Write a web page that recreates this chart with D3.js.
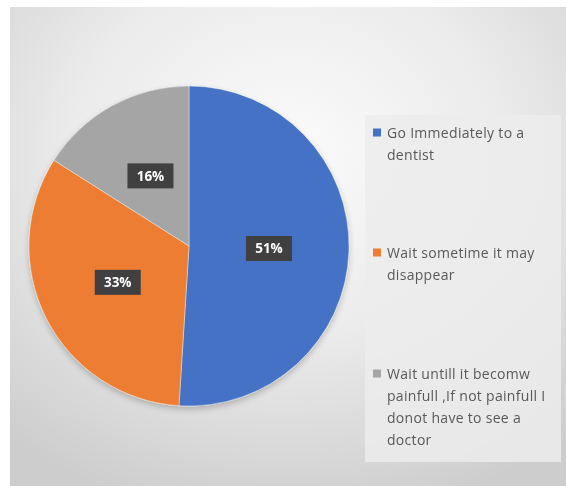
<!DOCTYPE html>
<html>
<head>
<meta charset="utf-8">
<script src="https://cdn.jsdelivr.net/npm/d3@7"></script>
<style>
  html, body { margin: 0; padding: 0; background: #ffffff; }
  svg { display: block; }
</style>
</head>
<body>
<svg id="chart" width="566" height="486"></svg>
<script>
// Survey answers and their shares (percent)
const categories = [
  "Go Immediately to a dentist",
  "Wait sometime it may disappear",
  "Wait untill it becomw painfull ,If not painfull I donot have to see a doctor"
];
const legendLines = [
  ["Go Immediately to a", "dentist"],
  ["Wait sometime it may", "disappear"],
  ["Wait untill it becomw", "painfull ,If not painfull I", "donot have to see a", "doctor"]
];
const shares = [51, 33, 16];
const colors = ["#4472C4", "#ED7D31", "#A5A5A5"];

const svg = d3.select("#chart");
const defs = svg.append("defs");

// Chart area background: light radial fade
const bg = defs.append("radialGradient")
  .attr("id", "bgGrad")
  .attr("cx", "50%").attr("cy", "30%").attr("r", "78%");
bg.append("stop").attr("offset", "0%").attr("stop-color", "#fbfbfb");
bg.append("stop").attr("offset", "50%").attr("stop-color", "#ebebeb");
bg.append("stop").attr("offset", "100%").attr("stop-color", "#cdcdcd");

const soft = defs.append("filter").attr("id", "soft")
  .attr("x", "-20%").attr("y", "-20%").attr("width", "140%").attr("height", "140%");
soft.append("feGaussianBlur").attr("stdDeviation", 0.6);

const shadow = defs.append("filter").attr("id", "shadow")
  .attr("x", "-20%").attr("y", "-20%").attr("width", "140%").attr("height", "140%");
shadow.append("feGaussianBlur").attr("in", "SourceAlpha").attr("stdDeviation", 3).attr("result", "b");
shadow.append("feOffset").attr("in", "b").attr("dy", 3).attr("result", "o");
shadow.append("feComponentTransfer").attr("in", "o").attr("result", "s")
  .append("feFuncA").attr("type", "linear").attr("slope", 0.22);
const m = shadow.append("feMerge");
m.append("feMergeNode").attr("in", "s");
m.append("feMergeNode").attr("in", "SourceGraphic");

svg.append("rect")
  .attr("x", 10).attr("y", 7)
  .attr("width", 556).attr("height", 479)
  .attr("fill", "url(#bgGrad)");

// Pie
const cx = 189, cy = 246, radius = 160;
const pie = d3.pie().sort(null).value(d => d)(shares);
const arc = d3.arc().innerRadius(0).outerRadius(radius);
const labelArc = d3.arc().innerRadius(80).outerRadius(80);

const g = svg.append("g").attr("transform", `translate(${cx},${cy})`);

g.append("g").attr("filter", "url(#shadow)")
  .selectAll("path")
  .data(pie)
  .join("path")
  .attr("d", arc)
  .attr("fill", (d, i) => colors[i])
  .attr("stroke", "#ffffff")
  .attr("stroke-width", 0.4);

// Percentage labels in dark boxes
const lab = g.selectAll("g.lab")
  .data(pie)
  .join("g")
  .attr("class", "lab")
  .attr("transform", d => {
    const [x, y] = labelArc.centroid(d);
    return `translate(${x},${y})`;
  })
  .attr("filter", "url(#soft)");

lab.append("rect")
  .attr("x", -23).attr("y", -12.5)
  .attr("width", 46).attr("height", 25)
  .attr("fill", "#404040");

lab.append("text")
  .attr("text-anchor", "middle")
  .attr("dy", "0.36em")
  .attr("font-family", "'Open Sans', 'Liberation Sans', Arial, sans-serif")
  .attr("font-weight", "bold")
  .attr("font-size", 13.5)
  .attr("fill", "#ffffff")
  .text(d => d.data + "%");

// Legend
const legend = svg.append("g");
legend.append("rect")
  .attr("x", 365).attr("y", 115)
  .attr("width", 196).attr("height", 347)
  .attr("fill", "#ececec")
  .attr("opacity", 0.85);

const itemTop = [133, 253, 374];
const lineH = 22;
const items = legend.selectAll("g.item")
  .data(categories)
  .join("g")
  .attr("class", "item")
  .attr("transform", (d, i) => `translate(0,${itemTop[i]})`)
  .attr("filter", "url(#soft)");

items.append("rect")
  .attr("x", 373).attr("y", -4.5)
  .attr("width", 8).attr("height", 8)
  .attr("fill", (d, i) => colors[i]);

items.each(function (d, i) {
  const t = d3.select(this).append("text")
    .attr("x", 387)
    .attr("font-family", "'Open Sans', 'Liberation Sans', Arial, sans-serif")
    .attr("font-size", 14)
    .attr("letter-spacing", 0.3)
    .attr("fill", "#595959");
  legendLines[i].forEach((line, k) => {
    t.append("tspan")
      .attr("x", 387)
      .attr("y", k * lineH)
      .attr("dy", "0.35em")
      .text(line);
  });
});
</script>
</body>
</html>
